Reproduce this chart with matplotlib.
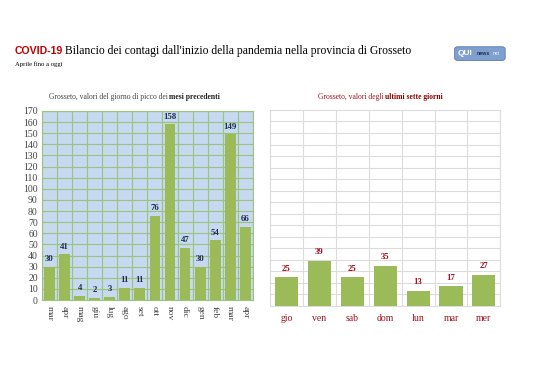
import numpy as np
import matplotlib.pyplot as plt
from matplotlib.patches import FancyBboxPatch

# =====================================================
# DATA
# =====================================================

mesi = ["mar", "apr", "mag", "giu", "lug", "ago", "set",
        "ott", "nov", "dic", "gen", "feb", "mar", "apr"]
picchi = [30, 41, 4, 2, 3, 11, 11, 76, 158, 47, 30, 54, 149, 66]

giorni = ["gio", "ven", "sab", "dom", "lun", "mar", "mer"]
ultimi = [25, 39, 25, 35, 13, 17, 27]

# =====================================================
# STYLE
# =====================================================

serif = "Liberation Serif"
bar_green = "#9bbb59"
navy = "#1f2d4e"
dark_red = "#a01020"

fig = plt.figure(figsize=(5.38, 3.8), dpi=100)
fig.patch.set_facecolor("white")

# =====================================================
# TITLES
# =====================================================

fig.text(0.028, 0.858, "COVID-19", family="Liberation Sans", weight="bold",
         color="#c00000", fontsize=7.6, va="baseline")
fig.text(0.121, 0.858, "Bilancio dei contagi dall'inizio della pandemia nella provincia di Grosseto",
         family=serif, color="black", fontsize=8.4, va="baseline")
fig.text(0.028, 0.826, "Aprile fino a oggi", family=serif, fontsize=4.8, va="baseline")

logo = FancyBboxPatch((0.847, 0.843), 0.090, 0.032, transform=fig.transFigure,
                      boxstyle="round,pad=0.002,rounding_size=0.006",
                      facecolor="#7f9fcf", edgecolor="#5a7bb0", lw=0.6)
fig.patches.append(logo)
fig.text(0.850, 0.859, "QUI", family="Liberation Sans", weight="bold",
         color="white", fontsize=6, va="center")
fig.text(0.885, 0.858, "news", family="Liberation Sans", weight="bold",
         color="#1f2d4e", fontsize=3.8, va="center")
fig.text(0.915, 0.858, "net", family="Liberation Sans",
         color="white", fontsize=3.5, va="center")

# =====================================================
# LEFT CHART - MESI PRECEDENTI
# =====================================================

ax1 = fig.add_axes([0.078, 0.2105, 0.392, 0.4974])
x1 = np.arange(len(mesi))
ax1.set_facecolor("#c6d9f1")
ax1.bar(x1, picchi, width=0.72, color=bar_green, zorder=3)
for xi, v in zip(x1, picchi):
    ax1.text(xi, v + 3, str(v), ha="center", va="bottom", family=serif,
             weight="bold", fontsize=6.3, color=navy, zorder=4)

ax1.set_xlim(-0.5, len(mesi) - 0.5)
ax1.set_ylim(0, 170)
ax1.set_yticks(np.arange(0, 171, 10))
ax1.set_xticks(x1)
ax1.set_xticklabels(mesi, rotation=270, family=serif, fontsize=6.8, color="#444444")
ax1.set_xticks(np.arange(-0.5, len(mesi), 1), minor=True)
ax1.tick_params(axis="y", labelsize=7, length=0, pad=3, labelcolor="#444444")
for lab in ax1.get_yticklabels():
    lab.set_family(serif)
ax1.tick_params(axis="x", which="both", length=0, pad=4)
ax1.grid(True, axis="y", color="#9cc37a", lw=0.8, zorder=0)
ax1.grid(True, axis="x", which="minor", color="#9cc37a", lw=0.8, zorder=0)
ax1.grid(False, axis="x", which="major")
for sp in ax1.spines.values():
    sp.set_color("#9cc37a")
    sp.set_linewidth(0.8)

fig.text(0.315, 0.740, "Grosseto, valori del giorno di picco dei ", family=serif,
         fontsize=5.5, color="#444444", ha="right")
fig.text(0.315, 0.740, "mesi precedenti", family=serif, weight="bold",
         fontsize=5.5, color="#222222", ha="left")

# =====================================================
# RIGHT CHART - ULTIMI SETTE GIORNI
# =====================================================

ax2 = fig.add_axes([0.502, 0.1947, 0.428, 0.516])
x2 = np.arange(len(giorni))
ax2.bar(x2, ultimi, width=0.7, color=bar_green, zorder=3)
for xi, v in zip(x2, ultimi):
    ax2.text(xi, v + 4, str(v), ha="center", va="bottom", family=serif,
             weight="bold", fontsize=6.3, color=dark_red, zorder=4)

ax2.set_xlim(-0.5, len(giorni) - 0.5)
ax2.set_ylim(0, 170)
ax2.set_yticks(np.arange(0, 171, 10))
ax2.set_yticklabels([])
ax2.set_xticks(x2)
ax2.set_xticklabels(giorni, family=serif, fontsize=7, color=dark_red)
ax2.set_xticks(np.arange(-0.5, len(giorni), 1), minor=True)
ax2.tick_params(axis="both", which="both", length=0)
ax2.tick_params(axis="x", pad=6)
ax2.grid(True, axis="y", color="#dcdcdc", lw=0.8, zorder=0)
ax2.grid(True, axis="x", which="minor", color="#dcdcdc", lw=0.8, zorder=0)
ax2.grid(False, axis="x", which="major")
for sp in ax2.spines.values():
    sp.set_color("#dcdcdc")
    sp.set_linewidth(0.8)

fig.text(0.716, 0.740, "Grosseto, valori degli ", family=serif,
         fontsize=5.5, color=dark_red, ha="right")
fig.text(0.716, 0.740, "ultimi sette giorni", family=serif, weight="bold",
         fontsize=5.5, color="#8b0000", ha="left")

fig.savefig("out.png", dpi=100)
